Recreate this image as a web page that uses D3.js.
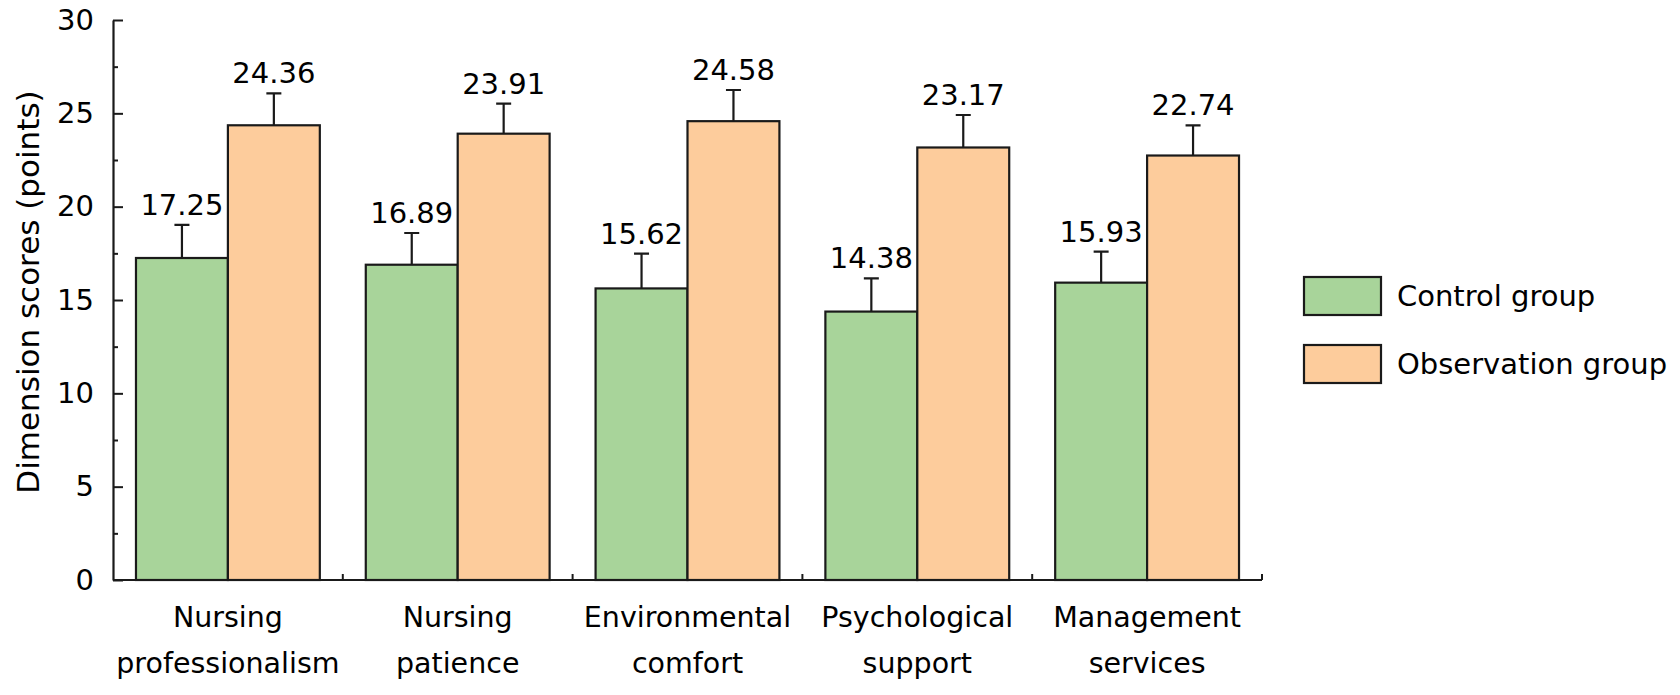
<!DOCTYPE html>
<html>
<head>
<meta charset="utf-8">
<script src="https://cdn.jsdelivr.net/npm/d3@7"></script>
<style>
  body { margin: 0; background: #fff; }
  text { font-family: "DejaVu Sans", Verdana, sans-serif; fill: #000; }
</style>
</head>
<body>
<div id="chart"></div>
<script>
// values
var categories = ["Nursing professionalism", "Nursing patience", "Environmental comfort", "Psychological support", "Management services"];
var controlScores = [17.25, 16.89, 15.62, 14.38, 15.93];
var observationScores = [24.36, 23.91, 24.58, 23.17, 22.74];
var controlSD = [1.77, 1.70, 1.86, 1.78, 1.66];
var observationSD = [1.71, 1.61, 1.67, 1.74, 1.62];
var groups = ["Control group", "Observation group"];
var yTicks = [0, 5, 10, 15, 20, 25, 30];

var colors = {"Control group": "#a8d49a", "Observation group": "#fdcc9c"};
var W = 1680, H = 695;

var svg = d3.select("#chart").append("svg")
    .attr("width", W)
    .attr("height", H);

var x = d3.scaleBand()
    .domain(categories)
    .range([113, 1262])
    .paddingInner(0.2)
    .paddingOuter(0.1);

var xSub = d3.scaleBand()
    .domain(groups)
    .range([0, x.bandwidth()]);

var y = d3.scaleLinear()
    .domain([0, 30])
    .range([580, 20]);

// rows for the bars
var rows = [];
categories.forEach(function(c, i){
    rows.push({cat: c, group: groups[0], value: controlScores[i], sd: controlSD[i]});
    rows.push({cat: c, group: groups[1], value: observationScores[i], sd: observationSD[i]});
});

var bars = svg.append("g");

// error bars first so the bar outline sits on top
bars.selectAll(".err")
    .data(rows)
    .enter()
    .append("path")
    .attr("class", "err")
    .attr("d", function(d){
        var cx = x(d.cat) + xSub(d.group) + xSub.bandwidth() / 2;
        var top = y(d.value + d.sd);
        return "M" + cx + "," + y(d.value) + "V" + top + "M" + (cx - 7.5) + "," + top + "H" + (cx + 7.5);
    })
    .attr("stroke", "#1a1a1a")
    .attr("stroke-width", 2.2)
    .attr("fill", "none");

bars.selectAll("rect")
    .data(rows)
    .enter()
    .append("rect")
    .attr("x", function(d){ return x(d.cat) + xSub(d.group); })
    .attr("y", function(d){ return y(d.value); })
    .attr("width", xSub.bandwidth())
    .attr("height", function(d){ return y(0) - y(d.value); })
    .attr("fill", function(d){ return colors[d.group]; })
    .attr("stroke", "#1a1a1a")
    .attr("stroke-width", 2.2);

// value labels above the caps
bars.selectAll(".val")
    .data(rows)
    .enter()
    .append("text")
    .attr("class", "val")
    .attr("x", function(d){ return x(d.cat) + xSub(d.group) + xSub.bandwidth() / 2; })
    .attr("y", function(d){ return y(d.value + d.sd) - 10; })
    .attr("text-anchor", "middle")
    .style("font-size", "29px")
    .text(function(d){ return d.value.toFixed(2); });

// y axis, major ticks inside with labels, minor ticks every 2.5
var yAxis = svg.append("g")
    .attr("transform", "translate(113,0)")
    .call(d3.axisLeft(y).tickValues(yTicks).tickSizeInner(-10).tickSizeOuter(0).tickPadding(19));
yAxis.select(".domain").attr("stroke", "#1a1a1a").attr("stroke-width", 2.2);
yAxis.selectAll(".tick line").attr("stroke", "#1a1a1a").attr("stroke-width", 2);
yAxis.selectAll(".tick text").style("font-size", "29px").attr("font-family", null);

svg.append("g")
    .attr("transform", "translate(113,0)")
    .call(d3.axisLeft(y).tickValues(d3.range(2.5, 30, 5)).tickSize(-5).tickFormat(""))
    .call(function(g){ g.select(".domain").remove(); })
    .selectAll(".tick line").attr("stroke", "#1a1a1a").attr("stroke-width", 2);

// x axis: baseline with small upward ticks between categories
var xAxis = svg.append("g").attr("transform", "translate(0,580)");
xAxis.append("path")
    .attr("d", "M" + x.range()[0] + ",0H" + x.range()[1])
    .attr("stroke", "#1a1a1a")
    .attr("stroke-width", 2.2);
xAxis.selectAll(".sep")
    .data(categories)
    .enter()
    .append("path")
    .attr("class", "sep")
    .attr("d", function(d, i){
        var px = x.range()[0] + (i + 1) * x.step();
        return "M" + px + ",0V-6";
    })
    .attr("stroke", "#1a1a1a")
    .attr("stroke-width", 2);

// category labels on two lines
xAxis.selectAll(".cat")
    .data(categories)
    .enter()
    .append("text")
    .attr("class", "cat")
    .attr("text-anchor", "middle")
    .style("font-size", "28.5px")
    .each(function(d){
        var words = d.split(" ");
        var t = d3.select(this);
        words.forEach(function(w, k){
            t.append("tspan")
                .attr("x", x(d) + x.bandwidth() / 2)
                .attr("y", 47 + k * 46)
                .text(w);
        });
    });

// y axis title
svg.append("text")
    .attr("transform", "translate(39,292) rotate(-90)")
    .attr("text-anchor", "middle")
    .style("font-size", "31px")
    .text("Dimension scores (points)");

// legend
var legend = svg.append("g").attr("transform", "translate(1304,277)");
var item = legend.selectAll("g")
    .data(groups)
    .enter()
    .append("g")
    .attr("transform", function(d, i){ return "translate(0," + i * 68 + ")"; });
item.append("rect")
    .attr("width", 77)
    .attr("height", 38)
    .attr("fill", function(d){ return colors[d]; })
    .attr("stroke", "#1a1a1a")
    .attr("stroke-width", 2.2);
item.append("text")
    .attr("x", 93)
    .attr("y", 19)
    .attr("dy", "0.35em")
    .style("font-size", "29px")
    .text(function(d){ return d; });
</script>
</body>
</html>
